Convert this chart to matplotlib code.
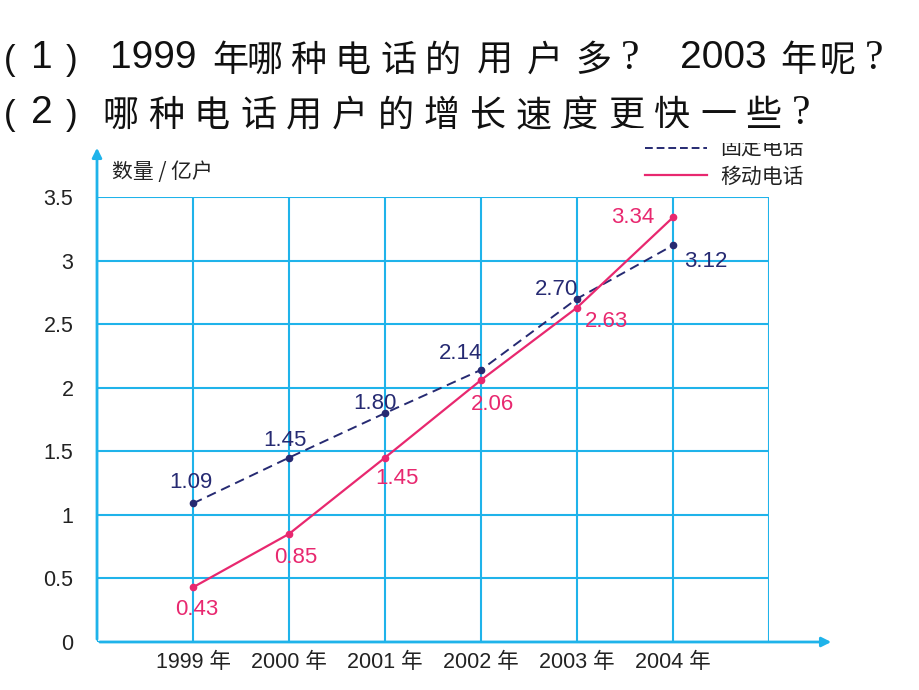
import matplotlib
matplotlib.use("Agg")
import matplotlib.pyplot as plt
from matplotlib.patches import Rectangle

plt.rcParams['font.family'] = ['Liberation Sans', 'Noto Sans CJK SC', 'DejaVu Sans']

years = [1999, 2000, 2001, 2002, 2003, 2004]
year_labels = ["1999 年", "2000 年", "2001 年", "2002 年", "2003 年", "2004 年"]
fixed = [1.09, 1.45, 1.80, 2.14, 2.70, 3.12]
mobile = [0.43, 0.85, 1.45, 2.06, 2.63, 3.34]
fixed_labels = ["1.09", "1.45", "1.80", "2.14", "2.70", "3.12"]
mobile_labels = ["0.43", "0.85", "1.45", "2.06", "2.63", "3.34"]
yticks = [0, 0.5, 1, 1.5, 2, 2.5, 3, 3.5]
ytick_labels = ["0", "0.5", "1", "1.5", "2", "2.5", "3", "3.5"]
series_names = ["固定电话", "移动电话"]
y_title = "数量 / 亿户"
q1 = ["（", "1", "）", "1999", "年", "哪", "种", "电", "话", "的", "用", "户", "多", "？", "2003", "年", "呢", "？"]
q2 = ["（", "2", "）", "哪", "种", "电", "话", "用", "户", "的", "增", "长", "速", "度", "更", "快", "一", "些", "？"]

grid_c = "#1fb3ea"
navy = "#262a72"
pink = "#e8286f"

W, H = 920, 690
fig = plt.figure(figsize=(9.2, 6.9), dpi=100)
ax = fig.add_axes([97/W, 1-642/H, (769-97)/W, (642-197)/H])
ax.set_xlim(1998, 2005)
ax.set_ylim(0, 3.5)

for x in range(1998, 2006):
    ax.axvline(x, color=grid_c, lw=1.5, zorder=1)
for y in yticks:
    ax.axhline(y, color=grid_c, lw=1.5, zorder=1)
for s in ax.spines.values():
    s.set_visible(False)
ax.tick_params(length=0)
ax.set_xticks(years)
ax.set_xticklabels(year_labels, fontsize=15.5, color="#222222")
ax.set_yticks(yticks)
ax.set_yticklabels(ytick_labels, fontsize=15.5, color="#222222")
ax.tick_params(axis='x', pad=7)
ax.tick_params(axis='y', pad=17)

# axis arrows
ax.annotate("", xy=(834/W, 1-642/H), xytext=(97/W, 1-642/H),
            xycoords='figure fraction', textcoords='figure fraction',
            arrowprops=dict(arrowstyle="-|>", color=grid_c, lw=2, mutation_scale=14))
ax.annotate("", xy=(97/W, 1-145/H), xytext=(97/W, 1-642/H),
            xycoords='figure fraction', textcoords='figure fraction',
            arrowprops=dict(arrowstyle="-|>", color=grid_c, lw=2, mutation_scale=14))

ax.plot(years, fixed, color=navy, lw=1.4, ls=(0, (5, 3)), marker='o', ms=4.5, zorder=3, clip_on=False)
ax.plot(years, mobile, color=pink, lw=1.6, marker='o', ms=4.5, zorder=3, clip_on=False)

# label offsets in pixels (dx right, dy up)
fixed_off = [(-2, 21), (-4, 17), (-10, 10), (-20, 16), (-21, 9), (33, -16)]
mobile_off = [(4, -22), (7, -24), (12, -21), (11, -24), (29, -14), (-40, 0)]
for x, y, t, o in zip(years, fixed, fixed_labels, fixed_off):
    ax.annotate(t, (x, y), xytext=o, textcoords='offset pixels', ha='center', va='center',
                color=navy, fontsize=16, zorder=4)
for x, y, t, o in zip(years, mobile, mobile_labels, mobile_off):
    ax.annotate(t, (x, y), xytext=o, textcoords='offset pixels', ha='center', va='center',
                color=pink, fontsize=16, zorder=4)

# y-axis title
fig.text(112/W, 1-172/H, y_title, fontsize=15, va='center', ha='left', color="#222222",
         family=['Noto Sans CJK SC'])

# legend
fig.add_artist(plt.Line2D([645/W, 707/W], [1-148/H, 1-148/H], color=navy, lw=1.4, ls=(0, (4, 2))))
fig.text(720/W, 1-149/H, series_names[0], fontsize=15, va='center', ha='left', color="#222222",
         family=['Noto Sans CJK SC'])
fig.add_artist(plt.Line2D([645/W, 707/W], [1-175/H, 1-175/H], color=pink, lw=1.6))
fig.text(720/W, 1-177/H, series_names[1], fontsize=15, va='center', ha='left', color="#222222",
         family=['Noto Sans CJK SC'])
# top of the picture is cut in the reference
fig.add_artist(Rectangle((600/W, 1-143/H), 320/W, 15/H, transform=fig.transFigure,
                         facecolor='white', edgecolor='none', zorder=10))

# questions, placed glyph by glyph (centres in pixels)
q1_x = [10, 42, 72, 153, 230, 264, 308, 353, 398, 443, 495, 545, 593, 630, 723, 798, 838, 874]
q2_x = [10, 42, 72, 120, 166, 212, 258, 304, 350, 396, 442, 488, 534, 580, 626, 672, 718, 764, 801]
def put(chars, xs, ybase):
    for c, x in zip(chars, xs):
        if c in "（）":
            fig.text(x/W, 1-(ybase+3)/H, "(" if c == "（" else ")", fontsize=25, ha='center',
                     va='baseline', color="#111111", family=['Liberation Sans'])
        elif c == "？":
            fig.text(x/W, 1-(ybase+2)/H, "?", fontsize=30, ha='center', va='baseline',
                     color="#111111", family=['Liberation Serif'])
        elif c[0].isdigit():
            fig.text(x/W, 1-(ybase+1)/H, c, fontsize=28, ha='center', va='baseline',
                     color="#111111", family=['Liberation Sans'])
        else:
            fig.text(x/W, 1-(ybase+4)/H, c, fontsize=26, ha='center', va='baseline',
                     color="#111111", family=['Noto Sans CJK SC'])
put(q1, q1_x, 67)
put(q2, q2_x, 122)

fig.savefig("out.png", dpi=100, facecolor='white')
